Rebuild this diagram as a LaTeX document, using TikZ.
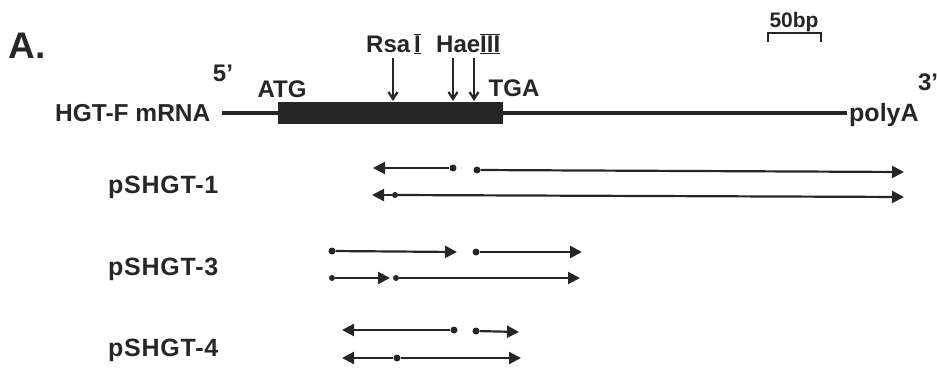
\documentclass[tikz,border=0pt]{standalone}
\usepackage{fontspec}
\setmainfont{Liberation Sans}
\usetikzlibrary{arrows.meta}
\definecolor{ink}{gray}{0.15}
\begin{document}
\begin{tikzpicture}[x=1pt,y=-1pt,
  lab/.style={font=\bfseries\fontsize{25}{25}\selectfont\addfontfeatures{LetterSpace=3}, text=ink, inner sep=0pt},
  small/.style={font=\bfseries\fontsize{24}{24}\selectfont, text=ink, inner sep=0pt},
  mline/.style={line width=4pt, draw=ink},
  frag/.style={line width=2.2pt, draw=ink, -{Triangle[length=12pt,width=12pt]}},
  cut/.style={line width=2.2pt, draw=ink, -{Straight Barb[length=7pt,width=9pt]}},
  dotc/.style={circle, fill=ink, inner sep=0pt, minimum size=7pt},
  sdot/.style={circle, fill=ink, inner sep=0pt, minimum size=6pt}]
\useasboundingbox (0,0) rectangle (937,372);
% titles
\node[font=\bfseries\fontsize{37}{37}\selectfont, text=ink, inner sep=0pt] (A) at (27,46) {A.};
\node[font=\bfseries\fontsize{24.5}{25}\selectfont, text=ink, inner sep=0pt, anchor=west] (hgt) at (55,113) {HGT-F mRNA};
\node[lab, anchor=west] (p1) at (108,187) {pSHGT-1};
\node[lab, anchor=west] (p3) at (108,269) {pSHGT-3};
\node[lab, anchor=west] (p4) at (108,350) {pSHGT-4};
% mRNA
\coordinate (m5) at (222,113);
\coordinate (m3) at (847,113);
\node[fill=ink, minimum width=225pt, minimum height=22pt, inner sep=0pt, anchor=west] (cds) at (278,113) {};
\draw[mline] (m5) -- (cds.west);
\draw[mline] (cds.east) -- (m3);
\node[small] (five) at (223,73) {5’};
\node[small] (three) at (928,82) {3’};
\node[small] (atg) at (282,89) {ATG};
\node[small] (tga) at (514,88) {TGA};
\node[small, font=\bfseries\fontsize{25}{25}\selectfont, anchor=west] (polya) at (849,115) {polyA};
% restriction sites
\node[small, anchor=west] (rsa) at (366,44) {Rsa\,$\overline{\underline{\hbox{I}}}$};
\node[small, anchor=west] (hae) at (436,44) {Hae$\overline{\underline{\hbox{III}}}$};
\coordinate (r1a) at (393,58); \coordinate (r1b) at (393,101);
\coordinate (h1a) at (453,58); \coordinate (h1b) at (453,101);
\coordinate (h2a) at (474,58); \coordinate (h2b) at (474,101);
\draw[cut] (r1a) -- (r1b);
\draw[cut] (h1a) -- (h1b);
\draw[cut] (h2a) -- (h2b);
% scale bar
\node[font=\bfseries\fontsize{21}{21}\selectfont, text=ink, inner sep=0pt] (bp) at (794,22) {50bp};
\coordinate (s1) at (768,42); \coordinate (s2) at (768,33);
\coordinate (s3) at (821,33); \coordinate (s4) at (821,42);
\draw[line width=2.2pt, draw=ink] (s1) -- (s2) -- (s3) -- (s4);
% pSHGT-1
\node[dotc] (a1) at (453,168) {};
\coordinate (a1e) at (373,168);
\draw[frag] (a1) -- (a1e);
\node[dotc] (a2) at (477,170) {};
\coordinate (a2e) at (904,172);
\draw[frag] (a2) -- (a2e);
\node[sdot] (a3) at (395,195) {};
\coordinate (a3l) at (372,195);
\coordinate (a3r) at (904,197);
\draw[frag] (a3) -- (a3l);
\draw[frag] (a3) -- (a3r);
% pSHGT-3
\node[dotc] (b1) at (332,251) {};
\coordinate (b1e) at (457,252);
\draw[frag] (b1) -- (b1e);
\node[dotc] (b2) at (476,252) {};
\coordinate (b2e) at (582,252);
\draw[frag] (b2) -- (b2e);
\node[sdot] (b3) at (332,278) {};
\coordinate (b3e) at (390,278);
\draw[frag] (b3) -- (b3e);
\node[sdot] (b4) at (396,278) {};
\coordinate (b4e) at (580,278);
\draw[frag] (b4) -- (b4e);
% pSHGT-4
\node[dotc] (c1) at (454,330) {};
\coordinate (c1e) at (342,330);
\draw[frag] (c1) -- (c1e);
\node[dotc] (c2) at (476,331) {};
\coordinate (c2e) at (519,332);
\draw[frag] (c2) -- (c2e);
\node[dotc] (c3) at (397,358) {};
\coordinate (c3l) at (342,358);
\coordinate (c3r) at (521,358);
\draw[frag] (c3) -- (c3l);
\draw[frag] (c3) -- (c3r);
\end{tikzpicture}
\end{document}
